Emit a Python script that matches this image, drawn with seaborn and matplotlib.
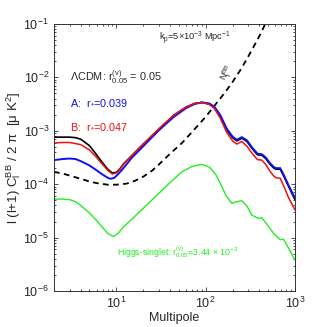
import numpy as np
import pandas as pd
import matplotlib
matplotlib.use("Agg")
import matplotlib.pyplot as plt
import seaborn as sns

# ==========================
# DATA
# ==========================
ell_lcdm = [2, 2.5, 3, 3.5, 4, 5, 6, 7, 8, 9, 10, 11, 12, 15, 20, 30, 44, 60, 75, 91,
            110, 125, 145, 172, 200, 223, 254, 290, 330, 380, 426, 470, 527, 580, 616,
            684, 760, 847, 1000]
cl_lcdm = [-3.12, -3.12, -3.12, -3.13, -3.16, -3.28, -3.45, -3.60, -3.72, -3.79, -3.78,
           -3.71, -3.62, -3.46, -3.25, -2.97, -2.71, -2.56, -2.49, -2.47,
           -2.50, -2.57, -2.72, -2.98, -3.13, -3.19, -3.14, -3.20, -3.33, -3.45, -3.46,
           -3.52, -3.63, -3.70, -3.72, -3.72, -3.87, -4.04, -4.29]

ell_a = [2, 2.5, 3, 3.5, 4, 5, 6, 7, 8, 8.6, 9.5, 10.5, 12, 15, 20, 30, 44, 60, 75, 91,
         110, 125, 145, 172, 200, 223, 254, 290, 330, 380, 426, 470, 527, 580, 616,
         684, 760, 847, 1000]
cl_a = [-3.55, -3.53, -3.52, -3.53, -3.57, -3.65, -3.74, -3.82, -3.88, -3.90, -3.88,
        -3.81, -3.70, -3.50, -3.29, -2.99, -2.74, -2.58, -2.50, -2.47,
        -2.49, -2.55, -2.70, -2.96, -3.11, -3.17, -3.12, -3.18, -3.31, -3.43, -3.44,
        -3.50, -3.61, -3.68, -3.70, -3.70, -3.85, -4.02, -4.26]

ell_b = [2, 2.5, 3, 4, 5, 6, 7, 8, 9, 10, 11, 12, 15, 20, 30, 44, 60, 75, 91,
         110, 125, 145, 172, 200, 223, 254, 290, 330, 380, 426, 470, 527, 580, 616,
         684, 760, 847, 1000]
cl_b = [-3.23, -3.22, -3.22, -3.26, -3.36, -3.50, -3.63, -3.74, -3.81, -3.79, -3.72,
        -3.63, -3.46, -3.25, -2.96, -2.71, -2.56, -2.49, -2.47,
        -2.51, -2.58, -2.76, -3.03, -3.19, -3.25, -3.20, -3.29, -3.42, -3.54, -3.55,
        -3.63, -3.76, -3.85, -3.88, -3.89, -4.06, -4.25, -4.48]

ell_higgs = [2, 2.5, 3, 3.5, 4, 5, 6, 7, 8, 9.2, 10.5, 12, 15, 20, 30, 40, 54, 70, 90,
             110, 130, 145, 170, 196, 220, 254, 290, 329, 390, 426, 480, 575, 684,
             745, 850, 1000]
cl_higgs = [-4.28, -4.28, -4.29, -4.33, -4.40, -4.54, -4.68, -4.81, -4.92, -4.98, -4.92,
            -4.80, -4.65, -4.45, -4.17, -3.97, -3.77, -3.67, -3.63,
            -3.68, -3.82, -3.98, -4.22, -4.36, -4.33, -4.31, -4.41, -4.58, -4.64, -4.63,
            -4.74, -4.92, -5.04, -5.03, -5.20, -5.42]

ell_noise = [2, 2.5, 3, 4, 5, 6, 8, 10, 13, 16, 20, 25, 30, 40, 55, 79, 100, 130, 160,
             196, 250, 300, 360, 420, 470, 520]
cl_noise = [-3.77, -3.80, -3.84, -3.90, -3.95, -3.98, -4.01, -4.01, -3.99, -3.94, -3.86,
            -3.75, -3.63, -3.43, -3.22, -2.93, -2.74, -2.50, -2.31, -2.11, -1.84, -1.61,
            -1.37, -1.16, -0.98, -0.82]

# ==========================
# STYLE
# ==========================
sns.set_style("ticks")
plt.rcParams["font.family"] = ["Liberation Sans", "DejaVu Sans"]
plt.rcParams["mathtext.fontset"] = "custom"
plt.rcParams["mathtext.rm"] = "Liberation Sans"
plt.rcParams["mathtext.it"] = "Liberation Sans:italic"
plt.rcParams["mathtext.default"] = "regular"

fig = plt.figure(figsize=(3.27, 3.27), dpi=100)
ax = fig.add_axes([0.165, 0.110, 0.737, 0.817])

# ==========================
# CURVES
# ==========================
sns.lineplot(x=ell_noise, y=10 ** np.array(cl_noise), ax=ax, color="black",
             lw=1.3, linestyle=(0, (3.2, 2.4)), estimator=None, sort=False)
sns.lineplot(x=ell_higgs, y=10 ** np.array(cl_higgs), ax=ax, color="#22ee22",
             lw=1.0, estimator=None, sort=False)
sns.lineplot(x=ell_lcdm, y=10 ** np.array(cl_lcdm), ax=ax, color="black",
             lw=1.2, estimator=None, sort=False)
sns.lineplot(x=ell_a, y=10 ** np.array(cl_a), ax=ax, color="#1010ee",
             lw=1.4, estimator=None, sort=False)
sns.lineplot(x=ell_b, y=10 ** np.array(cl_b), ax=ax, color="#ee1111",
             lw=1.1, estimator=None, sort=False)

ax.set_xscale("log")
ax.set_yscale("log")
ax.set_xlim(2, 1000)
ax.set_ylim(1e-6, 1e-1)

ax.tick_params(which="both", direction="in", top=True, right=True,
               labelsize=9, width=0.6, color="#333333")
ax.tick_params(which="major", length=3)
ax.tick_params(which="minor", length=1.6)
for s in ax.spines.values():
    s.set_linewidth(0.7)
    s.set_color("#333333")

ax.set_xlabel("Multipole", fontsize=9, labelpad=1)
ax.set_ylabel(r"l (l+1) C$_l^{BB}$ / 2 $\pi$  [$\mu$ K$^2$]", fontsize=9.5, labelpad=0)

# ==========================
# ANNOTATIONS
# ==========================
ax.text(0.436, 0.947, r"k$_p$=5$\times$10$^{-3}$ Mpc$^{-1}$", transform=ax.transAxes,
        fontsize=6.7, va="center")
ax.text(0.066, 0.80, r"$\Lambda$CDM: r$^{(v)}_{0.05}$ = 0.05", transform=ax.transAxes,
        fontsize=7.8, va="center")
ax.text(0.066, 0.704, r"A:  r$_{{*}}$=0.039", transform=ax.transAxes,
        fontsize=7.8, va="center", color="#1010ee")
ax.text(0.066, 0.614, r"B:  r$_{{*}}$=0.047", transform=ax.transAxes,
        fontsize=7.8, va="center", color="#ee1111")
ax.text(0.722, 0.815, r"N$_l^{BB}$", transform=ax.transAxes, fontsize=6.5,
        rotation=62, ha="center", va="center")
ax.text(0.26, 0.146, r"Higgs-singlet: r$^{(v)}_{0.05}$=3.44 $\times$ 10$^{-3}$",
        transform=ax.transAxes, fontsize=6.3, va="center", color="#22ee22")

fig.savefig("out.png", dpi=100)
